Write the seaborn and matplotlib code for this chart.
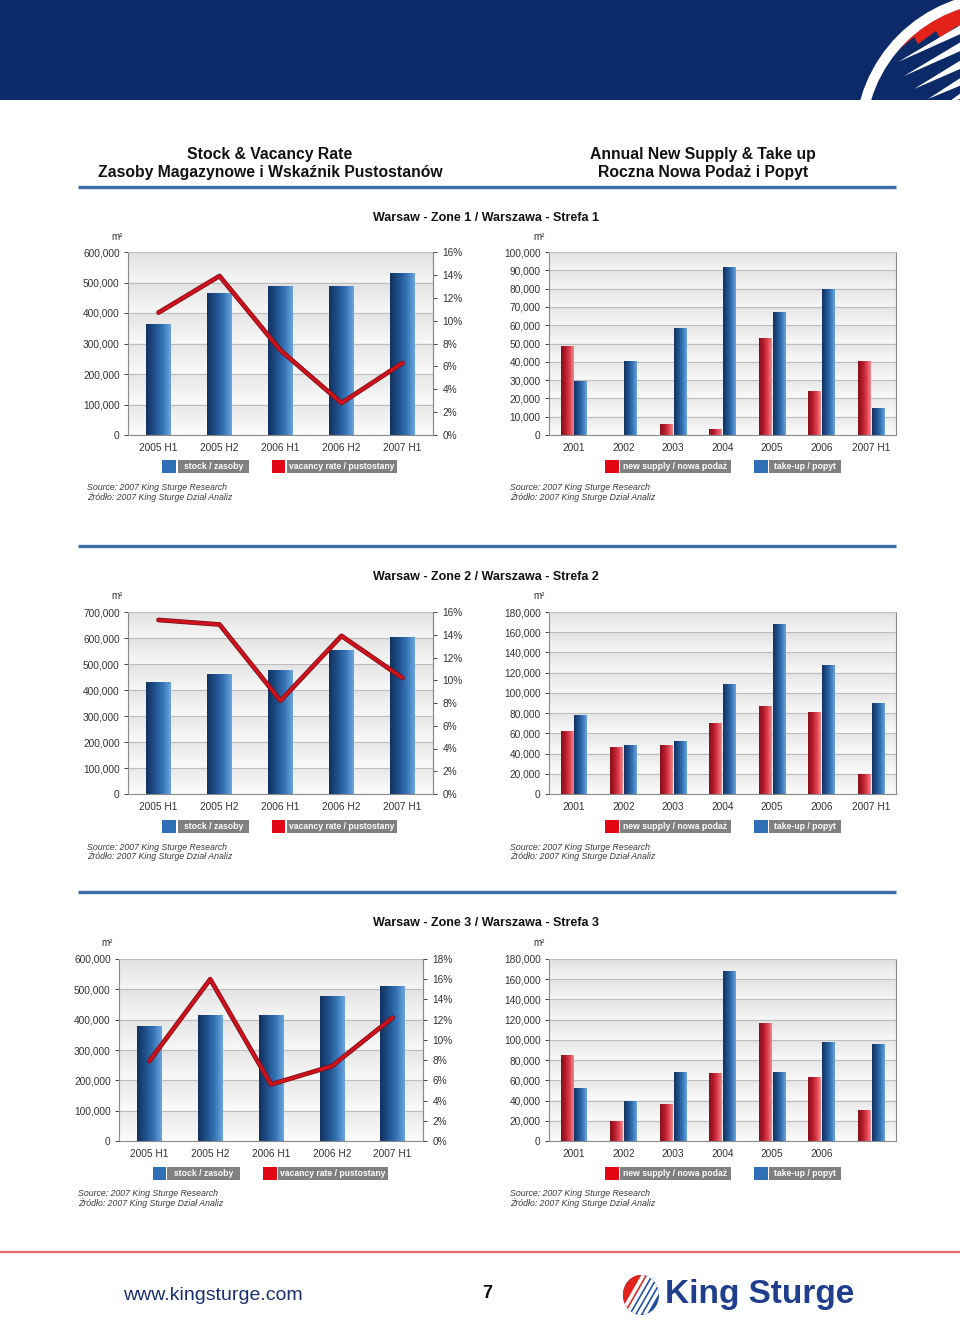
import numpy as np
import pandas as pd
import matplotlib
matplotlib.use("Agg")
import matplotlib.pyplot as plt
import seaborn as sns
from matplotlib.patches import Rectangle, Circle, Polygon, Ellipse
from matplotlib.ticker import FuncFormatter, MultipleLocator
from matplotlib.colors import LinearSegmentedColormap
import matplotlib.patheffects as pe

sns.set_theme(style="white")
plt.rcParams['font.family'] = ['Liberation Sans', 'DejaVu Sans']

# ---------------- data ----------------
halves = ["2005 H1", "2005 H2", "2006 H1", "2006 H2", "2007 H1"]
years = ["2001", "2002", "2003", "2004", "2005", "2006", "2007 H1"]
zone3_year_labels = ["2001", "2002", "2003", "2004", "2005", "2006", ""]

z1_stock = [363000, 465000, 487000, 487000, 530000]
z1_vacancy = [10.7, 13.9, 7.4, 2.8, 6.3]
z1_supply = [48900, 0, 5800, 3300, 52900, 24300, 40300]
z1_takeup = [29700, 40500, 58400, 92000, 67200, 79900, 15000]

z2_stock = [431000, 461000, 477000, 553000, 603000]
z2_vacancy = [15.3, 14.9, 8.2, 13.9, 10.2]
z2_supply = [62500, 46000, 48400, 69800, 86900, 81300, 20000]
z2_takeup = [78600, 48000, 52300, 108300, 167800, 127300, 90200]

z3_stock = [380000, 415000, 415000, 478000, 510000]
z3_vacancy = [7.9, 16.0, 5.6, 7.4, 12.2]
z3_supply = [84900, 19800, 36300, 67000, 116900, 63100, 31000]
z3_takeup = [52200, 39300, 68000, 168400, 68400, 98100, 96400]

zone_titles = ["Warsaw - Zone 1 / Warszawa - Strefa 1",
               "Warsaw - Zone 2 / Warszawa - Strefa 2",
               "Warsaw - Zone 3 / Warszawa - Strefa 3"]
header_left = ["Stock & Vacancy Rate", "Zasoby Magazynowe i Wskaźnik Pustostanów"]
header_right = ["Annual New Supply & Take up", "Roczna Nowa Podaż i Popyt"]
legend_stock = ["stock / zasoby", "vacancy rate / pustostany"]
legend_flow = ["new supply / nowa podaż", "take-up / popyt"]
source_lines = ["Source: 2007 King Sturge Research", "Źródło: 2007 King Sturge Dział Analiz"]

# ---------------- style ----------------
W, H = 960, 1320
NAVY = "#0c2a68"
BLUE = "#2a64a8"
RED = "#cc121c"
LEG_BLUE = "#2f6fb8"
LEG_RED = "#e30613"
LEG_GRAY = "#808080"
TXT = "#333333"
blue_cmap = LinearSegmentedColormap.from_list("bl", ["#13325f", "#1f4f8a", "#3573b6", "#6aa5dc"])
red_cmap = LinearSegmentedColormap.from_list("rd", ["#85101c", "#b21a2a", "#dc3f4c", "#f08890"])

fig = plt.figure(figsize=(9.6, 13.2), dpi=100)
fig.patch.set_facecolor("white")

# decoration axes in pixel coords
deco = fig.add_axes([0, 0, 1, 1], zorder=-5)
deco.set_xlim(0, W)
deco.set_ylim(H, 0)
deco.axis("off")


def px_axes(x0, y0, x1, y1):
    return fig.add_axes([x0 / W, 1 - y1 / H, (x1 - x0) / W, (y1 - y0) / H])


def band_background(ax, step):
    x0, x1 = ax.get_xlim()
    y0, y1 = ax.get_ylim()
    ys = np.linspace(y0, y1, 600)
    f = ((ys - y0) % step) / step
    g = (ys - y0) / (y1 - y0)
    val = 0.99 - 0.075 * f - 0.03 * g
    img = np.repeat(val[:, None, None], 3, axis=2)
    ax.imshow(img, extent=(x0, x1, y0, y1), origin="lower", aspect="auto",
              zorder=0, interpolation="bilinear")
    ax.set_xlim(x0, x1)
    ax.set_ylim(y0, y1)


def shade_bars(ax, patches, cmap):
    grad = np.linspace(0, 1, 64)[None, :]
    for p in patches:
        x, y, w, h = p.get_x(), p.get_y(), p.get_width(), p.get_height()
        if h <= 0:
            continue
        im = ax.imshow(grad, cmap=cmap, extent=(x, x + w, y, y + h), aspect="auto",
                       zorder=p.get_zorder() + 0.1, interpolation="bilinear")
        im.set_clip_path(p)


def style_axes(ax, n, ystep):
    ax.set_xlabel("")
    ax.set_ylabel("")
    ax.yaxis.set_major_locator(MultipleLocator(ystep))
    ax.yaxis.set_major_formatter(FuncFormatter(lambda v, p: f"{v:,.0f}"))
    ax.set_xticks(range(n))
    ax.set_xticks(np.arange(n - 1) + 0.5, minor=True)
    ax.tick_params(axis="x", which="major", length=0, pad=6, labelsize=7.3, labelcolor=TXT)
    ax.tick_params(axis="x", which="minor", length=3, width=0.8, color="#444444", direction="out")
    ax.tick_params(axis="y", length=3, width=0.7, color="#444444", direction="out",
                   pad=3, labelsize=7.3, labelcolor=TXT, left=True)
    ax.yaxis.grid(True, color="#bdbdbd", lw=0.8)
    ax.xaxis.grid(False)
    ax.set_axisbelow(True)
    for s in ax.spines.values():
        s.set_color("#8a8a8a")
        s.set_linewidth(0.8)
    ax.spines["top"].set_color("#bdbdbd")


def legend_row(y, items):
    for (sq0, sq1, g0, g1, col, text) in items:
        deco.add_patch(Rectangle((sq0, y), sq1 - sq0, 13, color=col, lw=0))
        deco.add_patch(Rectangle((g0, y), g1 - g0, 13, color=LEG_GRAY, lw=0))
        deco.text((g0 + g1) / 2, y + 6.8, text, ha="center", va="center",
                  color="white", fontsize=6.2, fontweight="bold")


def source_text(x, y):
    deco.text(x, y, source_lines[0], fontsize=6.3, style="italic", color="#3a3a3a", va="center")
    deco.text(x, y + 9, source_lines[1], fontsize=6.3, style="italic", color="#3a3a3a", va="center")


def stock_chart(rect, stock, vac, ymax, ystep, pmax):
    ax = px_axes(*rect)
    n = len(halves)
    df = pd.DataFrame({"period": halves, "stock": stock})
    sns.barplot(data=df, x="period", y="stock", order=halves, color=BLUE, width=0.4,
                saturation=1, linewidth=0, ax=ax)
    ax.set_xlim(-0.5, n - 0.5)
    ax.set_ylim(0, ymax)
    style_axes(ax, n, ystep)
    ax.set_xticklabels(halves)
    band_background(ax, ystep)
    shade_bars(ax, ax.patches, blue_cmap)
    ax.set_xlim(-0.5, n - 0.5)
    ax.set_ylim(0, ymax)

    ax2 = ax.twinx()
    sns.lineplot(x=np.arange(n), y=np.array(vac) / 100.0, ax=ax2, color=RED, lw=2.4,
                 path_effects=[pe.Stroke(linewidth=3.4, foreground="#7a0c14"), pe.Normal()])
    ax2.set_ylim(0, pmax)
    ax2.set_xlim(-0.5, n - 0.5)
    ax2.yaxis.set_major_locator(MultipleLocator(0.02))
    ax2.yaxis.set_major_formatter(FuncFormatter(lambda v, p: f"{v * 100:.0f}%"))
    ax2.tick_params(axis="y", length=3, width=0.7, color="#444444", direction="out",
                    pad=4, labelsize=7.3, labelcolor=TXT, right=True)
    ax2.set_ylabel("")
    ax2.grid(False)
    for s in ax2.spines.values():
        s.set_visible(False)
    ax2.spines["right"].set_visible(True)
    ax2.spines["right"].set_color("#8a8a8a")
    ax2.spines["right"].set_linewidth(0.8)
    return ax


def flow_chart(rect, supply, takeup, ymax, ystep, labels):
    ax = px_axes(*rect)
    n = len(years)
    df = pd.DataFrame({
        "year": years * 2,
        "value": list(supply) + list(takeup),
        "series": ["supply"] * n + ["takeup"] * n,
    })
    sns.barplot(data=df, x="year", y="value", hue="series", order=years,
                hue_order=["supply", "takeup"], palette={"supply": RED, "takeup": BLUE},
                width=0.56, gap=0.1, saturation=1, linewidth=0, legend=False, ax=ax)
    ax.set_xlim(-0.5, n - 0.5)
    ax.set_ylim(0, ymax)
    style_axes(ax, n, ystep)
    ax.set_xticklabels(labels)
    band_background(ax, ystep)
    shade_bars(ax, ax.containers[0].patches, red_cmap)
    shade_bars(ax, ax.containers[1].patches, blue_cmap)
    ax.set_xlim(-0.5, n - 0.5)
    ax.set_ylim(0, ymax)
    return ax


# ---------------- header ----------------
hdr = Rectangle((0, 0), W, 100, color=NAVY, lw=0, zorder=1)
deco.add_patch(hdr)
CX, CY = 1003, 140
inner = Circle((CX, CY), 138, transform=deco.transData)
ring = Circle((CX, CY), 143, fill=False, ec="white", lw=7.5, zorder=3)
deco.add_patch(ring)
ring.set_clip_path(hdr)
red_cap = Polygon([(850, -5), (975, -5), (975, 28), (960, 32), (957, 26), (940, 38),
                   (936, 31), (918, 44), (914, 37), (896, 52), (850, 56)],
                  closed=True, color="#e2231a", lw=0, zorder=2)
deco.add_patch(red_cap)
red_cap.set_clip_path(inner)
tips = [(898, 62), (904, 76), (914, 89), (928, 99), (946, 104)]
for (tx, ty) in tips:
    bx = 975
    by = ty - 0.5 * (bx - tx)
    spike = Polygon([(tx, ty), (bx, by - 7), (bx, by + 4)],
                    closed=True, color="white", lw=0, zorder=2)
    deco.add_patch(spike)
    spike.set_clip_path(inner)

# section headings
deco.text(270, 154, header_left[0], ha="center", va="center", fontsize=11.3, fontweight="bold", color="#111111")
deco.text(270, 173, header_left[1], ha="center", va="center", fontsize=11.3, fontweight="bold", color="#111111")
deco.text(703, 154, header_right[0], ha="center", va="center", fontsize=11.3, fontweight="bold", color="#111111")
deco.text(703, 173, header_right[1], ha="center", va="center", fontsize=11.3, fontweight="bold", color="#111111")

for yline in (187, 546, 892):
    deco.plot([78, 896], [yline, yline], color="#3d6fa6", lw=2.4, solid_capstyle="butt")

for yt, title in zip((218, 577, 923), zone_titles):
    deco.text(486, yt, title, ha="center", va="center", fontsize=9, fontweight="bold", color="#111111")

# m² labels
for (x, y) in [(117, 237), (539, 237), (117, 596), (539, 596), (107, 943), (539, 943)]:
    deco.text(x, y, "m²", ha="center", va="center", fontsize=7, color=TXT)

# ---------------- charts ----------------
stock_chart((128, 252, 433, 435), z1_stock, z1_vacancy, 600000, 100000, 0.16)
flow_chart((549, 252, 896, 435), z1_supply, z1_takeup, 100000, 10000, years)
stock_chart((128, 612, 433, 794), z2_stock, z2_vacancy, 700000, 100000, 0.16)
flow_chart((549, 612, 896, 794), z2_supply, z2_takeup, 180000, 20000, years)
stock_chart((119, 959, 423, 1141), z3_stock, z3_vacancy, 600000, 100000, 0.18)
flow_chart((549, 959, 896, 1141), z3_supply, z3_takeup, 180000, 20000, zone3_year_labels)

# legends
for y in (460, 820):
    legend_row(y, [(162, 176, 178, 249, LEG_BLUE, legend_stock[0]),
                   (272, 285, 287, 397, LEG_RED, legend_stock[1])])
legend_row(1167, [(153, 166, 167, 240, LEG_BLUE, legend_stock[0]),
                  (263, 277, 278, 388, LEG_RED, legend_stock[1])])
for y in (460, 820, 1167):
    legend_row(y, [(605, 619, 620, 731, LEG_RED, legend_flow[0]),
                   (754, 768, 769, 841, LEG_BLUE, legend_flow[1])])

# sources
source_text(87, 488)
source_text(510, 488)
source_text(87, 847)
source_text(510, 847)
source_text(78, 1194)
source_text(510, 1194)

# ---------------- footer ----------------
deco.plot([0, W], [1252, 1252], color="#e06a6a", lw=1.6)
deco.text(123, 1295, "www.kingsturge.com", ha="left", va="center", fontsize=14, color="#1c2f6e")
deco.text(487, 1293, "7", ha="center", va="center", fontsize=13, fontweight="bold", color="#111111")

logo = Ellipse((641, 1295), 36, 40, color="#1d4f9e", lw=0, zorder=2)
deco.add_patch(logo)
logo_red = Polygon([(615, 1270), (650, 1270), (622, 1320), (615, 1320)], closed=True,
                   color="#e2231a", lw=0, zorder=3)
deco.add_patch(logo_red)
logo_red.set_clip_path(logo)
for k in range(5):
    ox = 628 + k * 6
    s = Polygon([(ox + 14, 1274), (ox + 17, 1276), (ox - 6, 1316), (ox - 9, 1314)],
                closed=True, color="white", lw=0, zorder=4)
    deco.add_patch(s)
    s.set_clip_path(logo)
deco.text(665, 1295, "King Sturge", ha="left", va="center", fontsize=24,
          fontweight="bold", color="#1f3f8c")

fig.savefig("out.png", dpi=100, facecolor="white")
